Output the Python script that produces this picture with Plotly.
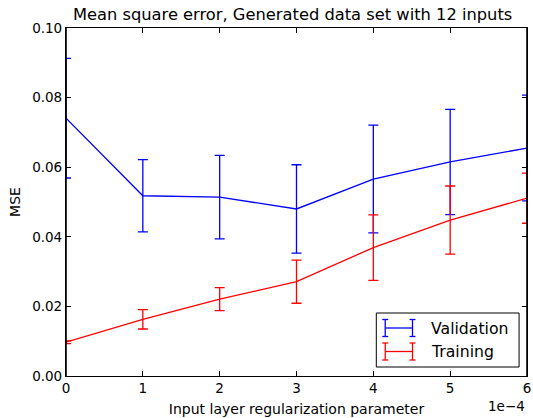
import plotly.graph_objects as go

# Regularization parameter (in units of 1e-4)
reg_param = [0, 1, 2, 3, 4, 5, 6]

# Validation MSE and its standard deviation
val_mse = [0.0741, 0.0518, 0.0514, 0.0480, 0.0566, 0.0615, 0.0655]
val_err = [0.0172, 0.0104, 0.0120, 0.0127, 0.0155, 0.0151, 0.0152]

# Training MSE and its standard deviation
train_mse = [0.0097, 0.0163, 0.0221, 0.0271, 0.0369, 0.0448, 0.0511]
train_err = [0.0004, 0.0028, 0.0033, 0.0062, 0.0094, 0.0098, 0.0072]

series_names = ["Validation", "Training"]
series_colors = ["#0000ff", "#ff0000"]

x_ticks = [0, 1, 2, 3, 4, 5, 6]
y_ticks = [0.00, 0.02, 0.04, 0.06, 0.08, 0.10]

FONT = "DejaVu Sans"

# Figure geometry (pixels)
W, H = 533, 418
ML, MR, MT, MB = 66, 2, 28, 42
PW, PH = W - ML - MR, H - MT - MB


def px_x(px):
    return (px - ML) / PW


def px_y(py):
    return (H - MB - py) / PH


fig = go.Figure()

for name, color, ys, errs in [
    (series_names[0], series_colors[0], val_mse, val_err),
    (series_names[1], series_colors[1], train_mse, train_err),
]:
    fig.add_trace(go.Scatter(
        x=reg_param, y=ys, name=name, mode="lines",
        line=dict(color=color, width=1.3),
        error_y=dict(type="data", array=errs, visible=True,
                     color=color, thickness=1.3, width=5),
        showlegend=False,
    ))

axis_common = dict(
    showline=True, linecolor="black", linewidth=1.2, mirror="ticks",
    ticks="inside", ticklen=5, tickcolor="black", tickwidth=1,
    showgrid=False, zeroline=False, layer="above traces",
    ticklabeloverflow="allow",
    tickfont=dict(family=FONT, size=13.5, color="black"),
)

fig.update_xaxes(
    range=[0, 6], tickvals=x_ticks, ticktext=[str(v) for v in x_ticks],
    title=dict(text="Input layer regularization parameter",
               font=dict(family=FONT, size=14, color="black"), standoff=8),
    **axis_common,
)
fig.update_yaxes(
    range=[0, 0.1], tickvals=y_ticks, ticktext=[f"{v:.2f}" for v in y_ticks],
    title=dict(text="MSE", font=dict(family=FONT, size=14, color="black"),
               standoff=8),
    **axis_common,
)

# Offset label for the x-axis scale
fig.add_annotation(
    text="1e\u22124", xref="paper", yref="paper", x=1, y=0,
    xanchor="right", yanchor="top", yshift=-20, showarrow=False,
    font=dict(family=FONT, size=13.5, color="black"),
)

# Left and right spines drawn over the data so edge error bars sit under them
shapes = []
for edge in (0, 1):
    shapes.append(dict(type="line", xref="paper", yref="paper",
                       x0=edge, x1=edge, y0=0, y1=1,
                       line=dict(color="black", width=1.6), layer="above"))

# Legend box with error-bar style glyphs
shapes.append(dict(type="rect", xref="paper", yref="paper",
                   x0=px_x(379), x1=px_x(523), y0=px_y(367), y1=px_y(313),
                   line=dict(color="black", width=1), fillcolor="white",
                   layer="above"))
row_y = [328, 351.5]
gx0, gx1 = 388, 415.5
for name, color, cy in zip(series_names, series_colors, row_y):
    seg = lambda xa, ya, xb, yb: dict(
        type="line", xref="paper", yref="paper",
        x0=px_x(xa), y0=px_y(ya), x1=px_x(xb), y1=px_y(yb),
        line=dict(color=color, width=1.3), layer="above")
    shapes.append(seg(gx0, cy, gx1, cy))
    for gx in (gx0, gx1):
        shapes.append(seg(gx, cy - 8.5, gx, cy + 8.5))
        shapes.append(seg(gx - 3, cy - 8.5, gx + 3, cy - 8.5))
        shapes.append(seg(gx - 3, cy + 8.5, gx + 3, cy + 8.5))
    fig.add_annotation(
        text=name, xref="paper", yref="paper", x=px_x(432), y=px_y(cy),
        xanchor="left", yanchor="middle", showarrow=False,
        font=dict(family=FONT, size=15.7, color="black"),
    )

fig.update_layout(
    width=W, height=H,
    margin=dict(l=ML, r=MR, t=MT, b=MB),
    paper_bgcolor="white", plot_bgcolor="white",
    title=dict(text="Mean square error, Generated data set with 12 inputs",
               font=dict(family=FONT, size=16.3, color="black"),
               xref="container", x=0.549, xanchor="center",
               yref="container", y=0.965, yanchor="middle"),
    shapes=shapes,
    showlegend=False,
)

fig.write_html("out.html")
